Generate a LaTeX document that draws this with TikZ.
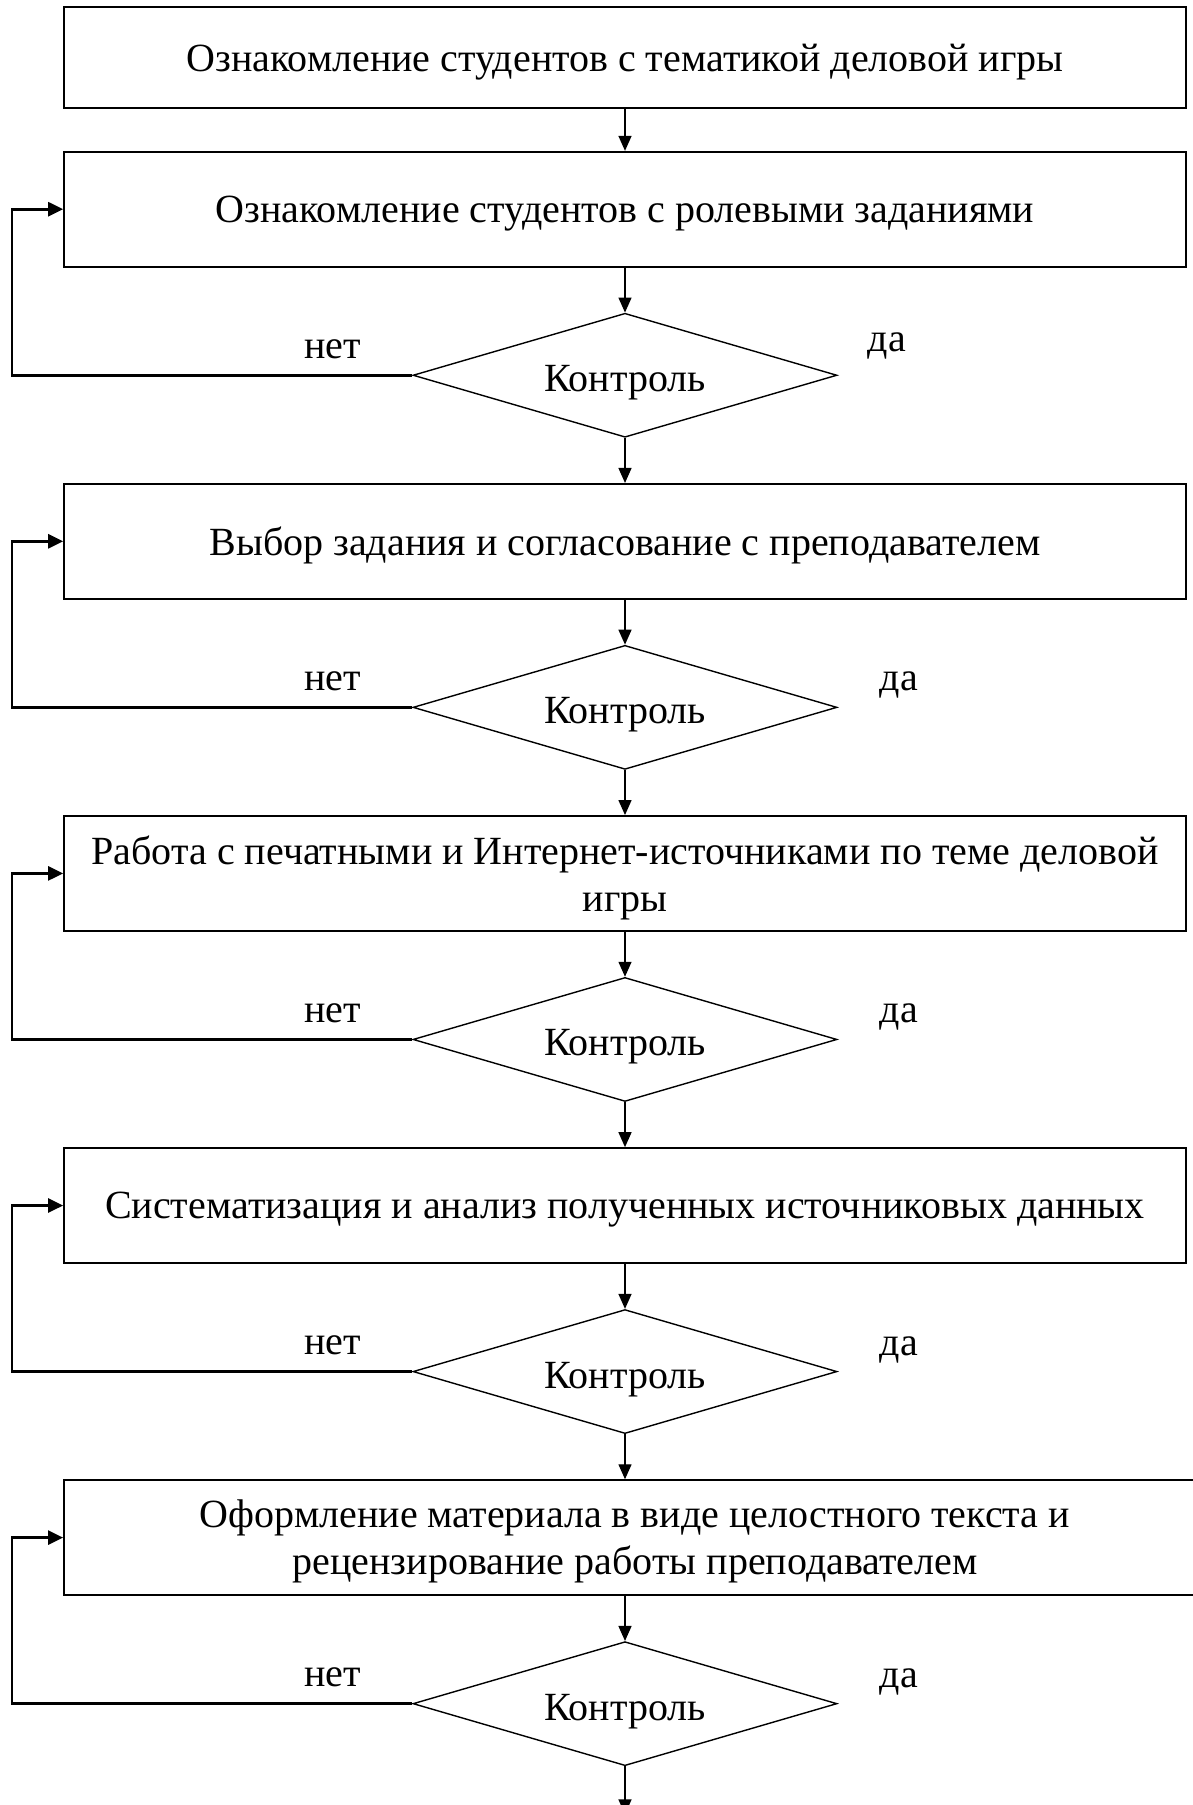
\documentclass[tikz,border=0pt]{standalone}
\usepackage{fontspec}
\setmainfont{Liberation Serif}
\usepackage{tikz}
\usetikzlibrary{shapes.geometric, arrows.meta, positioning}
\tikzstyle{etap} = [rectangle, draw=black, line width=1.7pt, minimum width=1122pt, minimum height=115pt, align=center, text depth=0pt, font=\fontsize{40}{47}\selectfont]
\tikzstyle{kontrol} = [diamond, draw=black, line width=1.4pt, aspect=3.4, minimum width=424pt, minimum height=124pt, inner sep=0pt, text height=33pt, text depth=0pt, font=\fontsize{40}{47}\selectfont]
\tikzstyle{svar} = [inner sep=0pt, font=\fontsize{40}{47}\selectfont]
\tikzstyle{arrow} = [line width=1.4pt, -{Triangle[length=15pt,width=13pt]}]
\tikzstyle{tilbake} = [line width=2.6pt, -{Triangle[length=15pt,width=14pt]}]

\begin{document}
\begin{tikzpicture}[node distance=45pt]
	\useasboundingbox (0,0) rectangle (1192pt,-1805pt);

	\node (etap1) [etap, minimum height=101pt] at (625pt,-57.5pt) {Ознакомление студентов с тематикой деловой игры};
	\node (etap2) [etap, below=42pt of etap1] {Ознакомление студентов с ролевыми заданиями};
	\node (kontr1) [kontrol, below=of etap2] {Контроль};
	\node (etap3) [etap, below=of kontr1] {Выбор задания и согласование с преподавателем};
	\node (kontr2) [kontrol, below=of etap3] {Контроль};
	\node (etap4) [etap, below=of kontr2] {Работа с печатными и Интернет-источниками по теме деловой\\игры};
	\node (kontr3) [kontrol, below=of etap4] {Контроль};
	\node (etap5) [etap, below=of kontr3] {Систематизация и анализ полученных источниковых данных};
	\node (kontr4) [kontrol, below=of etap5] {Контроль};
	\node (etap6) [etap, below=of kontr4, minimum width=1142pt, xshift=10pt] {Оформление материала в виде целостного текста и\\рецензирование работы преподавателем};
	\node (kontr5) [kontrol, below=of etap6, xshift=-10pt] {Контроль};

	\node (net1) [svar, left=51pt of kontr1.west, yshift=26pt] {нет};
	\node (da1) [svar, right=30pt of kontr1.east, yshift=29pt] {да};
	\node (net2) [svar, left=51pt of kontr2.west, yshift=26pt] {нет};
	\node (da2) [svar, right=42pt of kontr2.east, yshift=22pt] {да};
	\node (net3) [svar, left=51pt of kontr3.west, yshift=26pt] {нет};
	\node (da3) [svar, right=42pt of kontr3.east, yshift=22pt] {да};
	\node (net4) [svar, left=51pt of kontr4.west, yshift=26pt] {нет};
	\node (da4) [svar, right=42pt of kontr4.east, yshift=22pt] {да};
	\node (net5) [svar, left=51pt of kontr5.west, yshift=26pt] {нет};
	\node (da5) [svar, right=42pt of kontr5.east, yshift=22pt] {да};

	\coordinate (vlevo) at (12pt,0);
	\coordinate [below=48pt of kontr5] (vyhod);

	\draw [arrow] (etap1) -- (etap2);
	\draw [arrow] (etap2) -- (kontr1);
	\draw [arrow] (kontr1) -- (etap3);
	\draw [arrow] (etap3) -- (kontr2);
	\draw [arrow] (kontr2) -- (etap4);
	\draw [arrow] (etap4) -- (kontr3);
	\draw [arrow] (kontr3) -- (etap5);
	\draw [arrow] (etap5) -- (kontr4);
	\draw [arrow] (kontr4) -- (kontr4 |- etap6.north);
	\draw [arrow] (kontr4 |- etap6.south) -- (kontr5);
	\draw [arrow] (kontr5) -- (vyhod);

	\draw [tilbake] (kontr1.west) -- (kontr1.west -| vlevo) |- (etap2.west);
	\draw [tilbake] (kontr2.west) -- (kontr2.west -| vlevo) |- (etap3.west);
	\draw [tilbake] (kontr3.west) -- (kontr3.west -| vlevo) |- (etap4.west);
	\draw [tilbake] (kontr4.west) -- (kontr4.west -| vlevo) |- (etap5.west);
	\draw [tilbake] (kontr5.west) -- (kontr5.west -| vlevo) |- (etap6.west);
\end{tikzpicture}
\end{document}
